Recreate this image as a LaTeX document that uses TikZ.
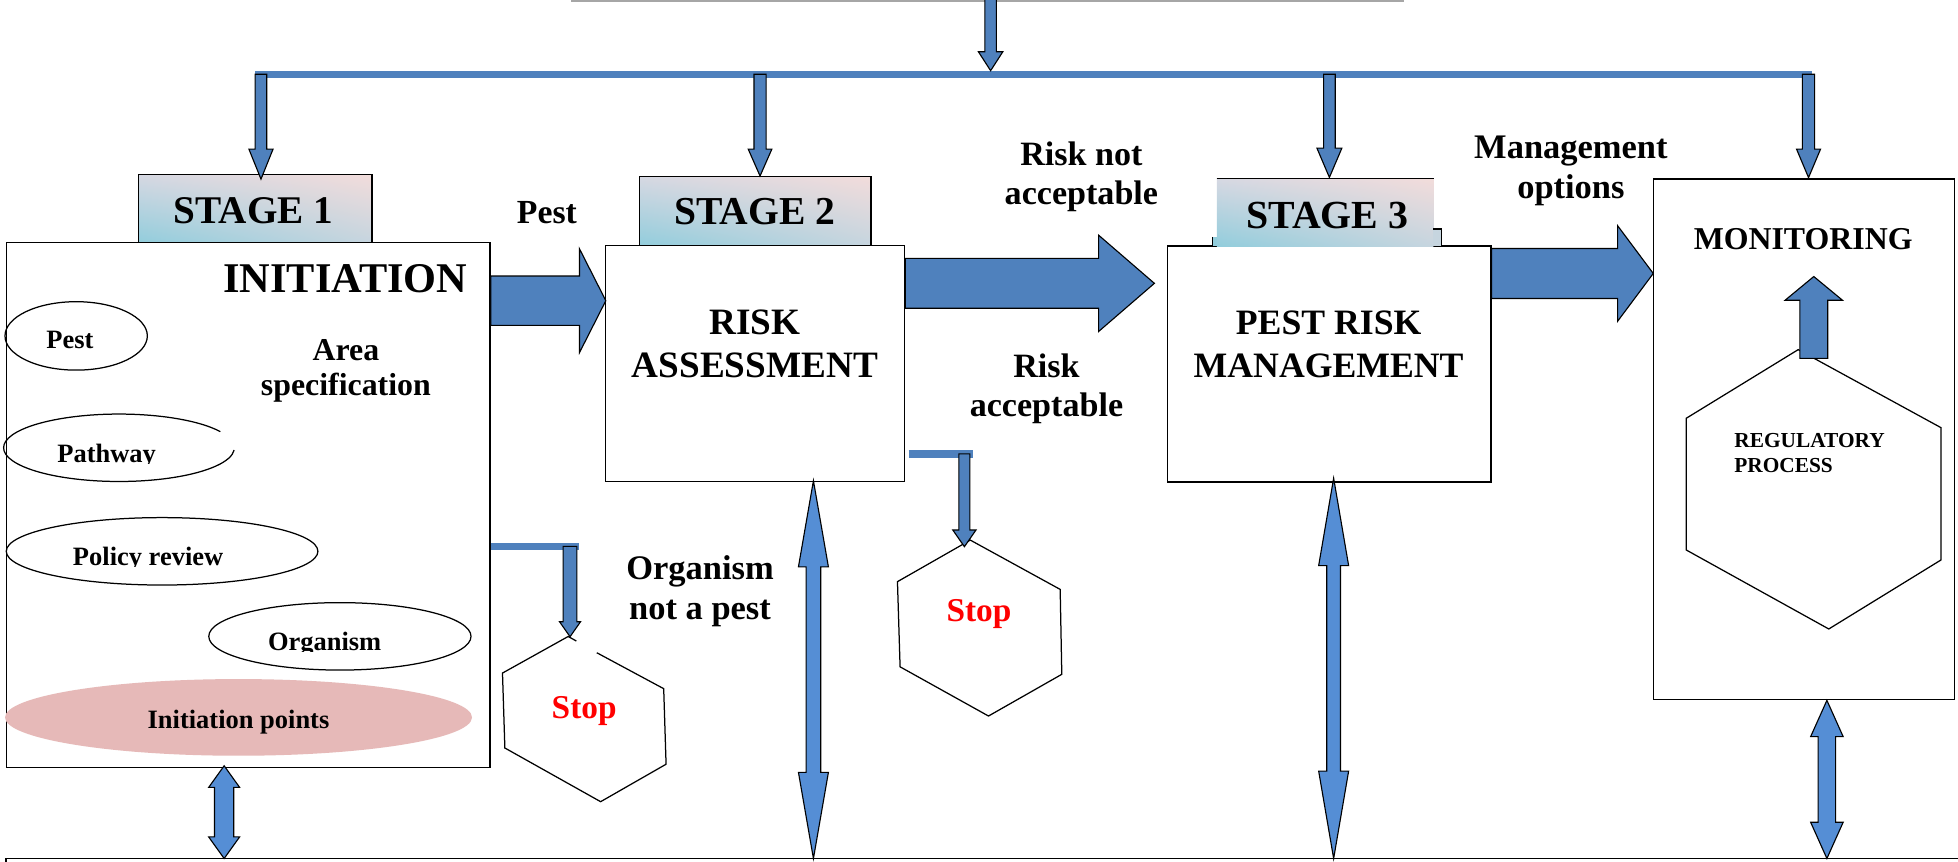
\documentclass[tikz,border=0pt]{standalone}
\usepackage{fontspec}
\setmainfont{Liberation Serif}
\usetikzlibrary{calc,shapes.geometric,shadings}
\definecolor{arrblue}{HTML}{4F81BD}
\definecolor{dblblue}{HTML}{558ED5}
\definecolor{stcyan}{HTML}{92CDDC}
\definecolor{stpink}{HTML}{F2DCDB}
\definecolor{stUL}{HTML}{D6D8E2}
\definecolor{stLR}{HTML}{C6D5DF}
\definecolor{inipink}{HTML}{E6B9B8}
\definecolor{topgray}{HTML}{A6A6A6}
\definecolor{stopred}{HTML}{FF0000}
\newcommand\bfsz[1]{\fontsize{#1}{#1}\selectfont\bfseries}
% vertical block arrow pointing down: #2 start (y used), #3 tip, #4 shaft half width, #5 head half width, #6 head length
\newcommand\blkdown[6][arrblue]{%
 \draw[blkarrow,fill=#1] let \p1=(#2), \p2=(#3) in
 (\x2-#4pt,\y1) -- (\x2+#4pt,\y1) -- (\x2+#4pt,\y2+#6pt) -- (\x2+#5pt,\y2+#6pt) -- (\x2,\y2)
 -- (\x2-#5pt,\y2+#6pt) -- (\x2-#4pt,\y2+#6pt) -- cycle;}
\newcommand\blkup[6][arrblue]{%
 \draw[blkarrow,fill=#1] let \p1=(#2), \p2=(#3) in
 (\x2-#4pt,\y1) -- (\x2+#4pt,\y1) -- (\x2+#4pt,\y2-#6pt) -- (\x2+#5pt,\y2-#6pt) -- (\x2,\y2)
 -- (\x2-#5pt,\y2-#6pt) -- (\x2-#4pt,\y2-#6pt) -- cycle;}
\newcommand\blkright[6][arrblue]{%
 \draw[blkarrow,fill=#1] let \p1=(#2), \p2=(#3) in
 (\x1,\y2+#4pt) -- (\x2-#6pt,\y2+#4pt) -- (\x2-#6pt,\y2+#5pt) -- (\x2,\y2)
 -- (\x2-#6pt,\y2-#5pt) -- (\x2-#6pt,\y2-#4pt) -- (\x1,\y2-#4pt) -- cycle;}
\newcommand\blkdbl[6][dblblue]{%
 \draw[blkarrow,fill=#1] let \p1=(#2), \p2=(#3) in
 (\x1,\y1) -- (\x1+#5pt,\y1-#6pt) -- (\x1+#4pt,\y1-#6pt) -- (\x1+#4pt,\y2+#6pt) -- (\x1+#5pt,\y2+#6pt)
 -- (\x1,\y2) -- (\x1-#5pt,\y2+#6pt) -- (\x1-#4pt,\y2+#6pt) -- (\x1-#4pt,\y1-#6pt) -- (\x1-#5pt,\y1-#6pt) -- cycle;}
\begin{document}
\begin{tikzpicture}[x=1pt,y=-1pt,
  box/.style={draw=black,line width=1.1pt,rectangle,inner sep=0pt,fill=white},
  stagebox/.style={rectangle,inner sep=0pt,shade,upper left=stUL,upper right=stpink,lower left=stcyan,lower right=stLR},
  oval/.style={ellipse,draw=black,line width=1pt,inner sep=0pt},
  txt/.style={inner sep=0pt,anchor=base,font={\bfsz{#1}}},
  hookline/.style={draw=arrblue,line width=#1,line cap=butt},
  hexline/.style={draw=black,line width=1pt,line join=miter},
  blkarrow/.style={draw=black,line width=0.9pt,line join=miter}]
\useasboundingbox (0,0) rectangle (1568,690);

% ---------- top lines ----------
\coordinate (grayL) at (457.6,0.8);
\coordinate (grayR) at (1124.5,0.8);
\draw[topgray,line width=1.2pt] (grayL) -- (grayR);
\coordinate (busL) at (204.5,59.5);
\coordinate (busR) at (1451.4,59.5);
\draw[arrblue,line width=5.3pt] (busL) -- (busR);
\coordinate (topsrc) at (793.3,-1);
\blkdown{topsrc}{$(topsrc |- busL)+(0,-2.9)$}{4.65}{9.8}{15.2}

% ---------- boxes ----------
\node[box,minimum width=387.5pt,minimum height=420.6pt] (init) at (198.75,404.3) {};
\node[stagebox,draw=black,line width=1.1pt,minimum width=187pt,minimum height=54.8pt] (stage1) at (204.3,167) {};
\node[box,minimum width=239.5pt,minimum height=188.8pt] (ra) at (604.75,291.1) {};
\node[stagebox,draw=black,line width=1.1pt,minimum width=185.5pt,minimum height=55pt] (stage2) at (604.75,169) {};
\node[box,minimum width=259pt,minimum height=189pt] (prm) at (1064.5,291.5) {};
\node[stagebox,minimum width=173.5pt,minimum height=53.8pt] (stage3) at (1061.2,170.2) {};
\fill[stLR] (1147.9,183.5) rectangle (1154.5,197);
\fill[stcyan] (971,189.6) rectangle (974.5,197);
\draw[line width=1.1pt] (stage3.north west) -- (stage3.north east);
\draw[line width=1.1pt] (1147.9,183.5) -- (1154.5,183.5) -- (1154.5,197);
\draw[line width=1.1pt] (971,189.6) -- (971,197);
\node[box,minimum width=241pt,minimum height=416.9pt] (mon) at (1444.5,351.85) {};

% ---------- bottom line ----------
\coordinate (baseL) at (5,687.5);
\coordinate (baseR) at (1568,687.5);
\draw[line width=1.3pt] (5,692) -- (baseL) -- (baseR);

% ---------- ellipses in initiation ----------
\node[oval,minimum width=114pt,minimum height=54.8pt] (ePest) at (61,269) {};
\coordinate (pathC) at (95.3,358.6);
\draw[line width=1pt] ($(pathC)+(81.2,-12.9)$) arc[start angle=28.5,end angle=356.2,x radius=92.4pt,y radius=27pt];
\node[oval,minimum width=249.6pt,minimum height=54pt] (ePol) at (129.8,441.5) {};
\node[oval,minimum width=210pt,minimum height=54pt] (eOrg) at (272.2,509.6) {};
\node[ellipse,fill=inipink,inner sep=0pt,minimum width=374pt,minimum height=61.4pt] (eIni) at (191,574.5) {};

% ---------- hexagons ----------
\coordinate (regtop) at (1440,280);
\draw[hexline] (regtop) -- (1554.4,342.5) -- (1554.4,448.4) -- (1464.5,503.7) -- (1350.3,440.4) -- (1350.3,335) -- cycle;
\coordinate (stop1top) at (455,509.7);
\draw[hexline] (477.9,522.7) -- (531.5,551.5) -- (533.4,612) -- (481,642) -- (404.3,599) -- (402.4,539) -- (stop1top) -- (461.5,513.3);
\coordinate (stop2top) at (777,432.5);
\draw[hexline] (stop2top) -- (849,472) -- (850.3,540) -- (791.6,573.4) -- (720.8,534) -- (718.7,465.8) -- cycle;

% ---------- drop arrows from bus ----------
\blkdown{busL}{$(stage1.north)+(4.7,4.4)$}{4.65}{9.65}{24}
\blkdown{busL}{$(stage2.north)+(3.9,0)$}{4.85}{9.45}{21.5}
\blkdown{busL}{$(stage3.north)+(3.4,-1)$}{4.65}{10}{23.5}
\blkdown{busL}{$(mon.north)+(3.8,-0.6)$}{4.9}{9.6}{22.8}

% ---------- horizontal flow arrows ----------
\blkright{init.east}{$(ra.west)+(0.7,-50.3)$}{19.75}{41.6}{21.1}
\blkright{ra.east}{$(prm.west)+(-10,-64.6)$}{20}{38.6}{44.7}
\blkright{prm.east}{$(mon.west)+(0.5,-132.85)$}{20}{38.2}{28.5}

% ---------- up arrow inside monitoring ----------
\blkup{$(regtop)+(12,7)$}{$(mon.north)+(8,78.6)$}{11.2}{23}{19}

% ---------- hook connectors to Stop ----------
\draw[hookline=6pt] ($(init.east)+(0,33.2)$) -- ++(70.5,0);
\blkdown{$(init.east)+(0,33.2)$}{$(stop1top)+(1.5,0.2)$}{5.5}{8.4}{12}
\draw[hookline=7pt] ($(ra.east)+(2.5,72.4)$) -- ++(51.8,0);
\blkdown{$(ra.east)+(2.5,72.4)$}{$(stop2top)+(-4.7,5.3)$}{4.4}{9.3}{13.4}

% ---------- double arrows to bottom ----------
\blkdbl{$(init.south)+(-19.25,-1.9)$}{baseL}{7.7}{12.4}{17.3}
\blkdbl{$(ra.south)+(46.65,-1.1)$}{baseL}{5.9}{12}{69}
\blkdbl{$(prm.south)+(3.5,-3.6)$}{baseL}{5.5}{12}{70}
\blkdbl{$(mon.south)+(18.5,0)$}{baseL}{7}{13}{29}

% ---------- texts ----------
\node[txt=31.4] (tStage1) at (203,179) {STAGE 1};
\node[txt=33.9] (tInit) at (276.6,234.4) {INITIATION};
\node[txt=27] (tPest) at (438,179) {Pest};
\node[txt=25.5] (tArea1) at (277,288.3) {Area};
\node[txt=25.5] (tArea2) at (277,317) {specification};
\node[txt=31.7] (tStage2) at (604.5,180) {STAGE 2};
\node[txt=29.8] (tRisk) at (604.6,268) {RISK};
\node[txt=29.8] (tAssess) at (604.6,302) {ASSESSMENT};
\node[txt=27.3] (tRna1) at (866,132.7) {Risk not};
\node[txt=27.3] (tRna2) at (866,163.5) {acceptable};
\node[txt=27.3] (tRa1) at (838,302) {Risk};
\node[txt=27.3] (tRa2) at (838,333.5) {acceptable};
\node[txt=27.6] (tOrg1) at (560.6,464) {Organism};
\node[txt=27.6] (tOrg2) at (560.6,496) {not a pest};
\node[txt=26.7,text=stopred] (tStop1) at (467.8,575) {Stop};
\node[txt=26.7,text=stopred] (tStop2) at (784,498) {Stop};
\node[txt=31.9] (tStage3) at (1063,183) {STAGE 3};
\node[txt=28.6] (tPrm1) at (1064,268) {PEST RISK};
\node[txt=28.6] (tPrm2) at (1064,302) {MANAGEMENT};
\node[txt=27.6] (tMan1) at (1258,126.8) {Management};
\node[txt=27.6] (tMan2) at (1258,159) {options};
\node[txt=25.5] (tMon) at (1444,200) {MONITORING};
\node[txt=17.1,anchor=base west] (tReg1) at (1388.7,358.2) {REGULATORY};
\node[txt=17.1,anchor=base west] (tReg2) at (1388.7,378) {PROCESS};

\node[txt=21.2] (tEPest) at (56,279) {Pest};
\begin{scope}
 \clip (0,0) rectangle (400,371);
 \node[txt=21.2] (tEPath) at (85.4,370) {Pathway};
\end{scope}
\begin{scope}
 \clip (0,0) rectangle (400,453.5);
 \node[txt=21.2] (tEPol) at (118.6,452.5) {Policy review};
\end{scope}
\begin{scope}
 \clip (0,0) rectangle (400,521.5);
 \node[txt=21.2] (tEOrg) at (260,520.6) {Organism};
\end{scope}
\node[txt=21.2] (tEIni) at (191,583) {Initiation points};
\end{tikzpicture}
\end{document}
